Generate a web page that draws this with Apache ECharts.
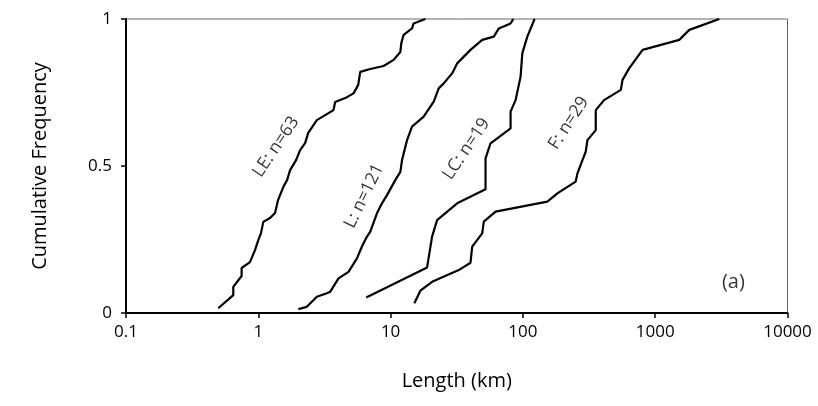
<!DOCTYPE html>
<html>
<head>
<meta charset="utf-8">
<script src="https://cdn.jsdelivr.net/npm/echarts@6/dist/echarts.min.js"></script>
<style>html,body{margin:0;padding:0;background:#fff}#c{width:818px;height:406px}</style>
</head>
<body>
<div id="c"></div>
<script>
// Length (km) and cumulative frequency for each group
const leLength = [0.498,0.647,0.647,0.748,0.748,0.865,0.944,1.0,1.048,1.091,1.226,1.338,1.410,1.546,1.650,1.739,1.930,2.070,2.258,2.379,2.770,3.201,3.700,3.812,4.538,5.245,5.692,5.895,7.020,8.851,10.54,11.85,12.05,12.54,14.52,14.94,18.32];
const leFreq   = [0.016,0.061,0.089,0.126,0.153,0.173,0.214,0.248,0.272,0.310,0.323,0.340,0.384,0.429,0.452,0.486,0.520,0.554,0.578,0.612,0.656,0.673,0.690,0.718,0.731,0.747,0.776,0.820,0.830,0.840,0.861,0.888,0.918,0.946,0.968,0.985,1.0];

const lLength = [2.01,2.326,2.770,3.298,3.493,4.037,4.807,5.566,6.073,6.626,7.020,7.888,8.607,9.391,10.85,11.85,12.20,13.31,14.52,17.78,21.18,23.10,25.20,29.18,31.84,40.17,49.25,60.29,65.79,80.68,84.59];
const lFreq   = [0.013,0.021,0.055,0.067,0.072,0.118,0.140,0.186,0.226,0.260,0.277,0.339,0.373,0.401,0.452,0.480,0.520,0.588,0.634,0.668,0.719,0.764,0.781,0.815,0.849,0.895,0.929,0.940,0.968,0.985,1.0];

const lcLength = [6.546,18.87,20.59,22.46,31.84,52.18,52.18,56.92,80.68,80.68,88.04,96.07,98.97,107.98,122.6];
const lcFreq   = [0.053,0.155,0.260,0.316,0.373,0.421,0.526,0.577,0.628,0.685,0.724,0.804,0.883,0.940,1.0];

const fLength = [15.12,16.79,20.59,32.74,40.17,41.38,49.25,50.64,62.13,153.0,182.2,250.7,258.3,298.5,307.5,355.4,355.4,410.8,549.8,566.2,635.3,802.8,1520,1810,3054];
const fFreq   = [0.033,0.076,0.106,0.146,0.171,0.226,0.271,0.311,0.345,0.379,0.407,0.447,0.475,0.549,0.588,0.622,0.690,0.724,0.759,0.793,0.832,0.895,0.929,0.963,1.0];

const xTicks = [0.1, 1, 10, 100, 1000, 10000];
const xTickLabels = ['0.1','1','10','100','1000','10000'];
const yTickLabels = {0:'0', 0.5:'0.5', 1:'1'};

// annotation labels: text, anchor length, anchor frequency, angle
const annText  = ['LE: n=63','L: n=121','LC: n=19','F: n=29','(a)'];
const annX     = [1.36, 6.31, 37.4, 222, 3900];
const annY     = [0.565, 0.398, 0.558, 0.646, 0.105];
const annAngle = [56, 64, 56, 57, 0];

const FONT = 'Open Sans';
function pairs(xs, ys){ return xs.map((v,i)=>[v, ys[i]]); }
function lineSeries(name, xs, ys){
  return {name, type:'line', data:pairs(xs,ys), symbol:'none', smooth:false,
    lineStyle:{color:'#000', width:2.2}, z:3, animation:false};
}
const chart = echarts.init(document.getElementById('c'), null, {renderer:'canvas'});
const series = [
  lineSeries('LE', leLength, leFreq),
  lineSeries('L', lLength, lFreq),
  lineSeries('LC', lcLength, lcFreq),
  lineSeries('F', fLength, fFreq),
  {type:'scatter', symbolSize:0, animation:false, silent:true,
   data: annText.map((t,i)=>({value:[annX[i], annY[i]], name:t,
     label:{show:true, position:'inside', formatter:t, rotate:annAngle[i],
       fontFamily:FONT, fontSize: i===4 ? 20 : 17.5, color:'#000'}}))}
];
chart.setOption({
  backgroundColor:'#fff',
  animation:false,
  grid:{left:126, right:30.5, top:19, bottom:93, show:true, borderColor:'#666', borderWidth:1},
  xAxis:{type:'log', logBase:10, min:0.1, max:10000,
    name:'Length (km)', nameLocation:'middle', nameGap:58,
    nameTextStyle:{fontFamily:FONT, fontSize:20, color:'#000'},
    axisLine:{show:true, onZero:false, lineStyle:{color:'#000', width:2}},
    axisTick:{show:true, length:5, lineStyle:{color:'#000', width:1.5}},
    axisLabel:{fontFamily:FONT, fontSize:17, color:'#000', margin:11,
      formatter:v=>{const i=xTicks.findIndex(t=>Math.abs(Math.log10(t)-Math.log10(v))<1e-6); return i>=0?xTickLabels[i]:'';}},
    splitLine:{show:false}, minorTick:{show:false}},
  yAxis:{type:'value', min:0, max:1, interval:0.5,
    name:'Cumulative Frequency', nameLocation:'middle', nameGap:76,
    nameTextStyle:{fontFamily:FONT, fontSize:20, color:'#000'},
    axisLine:{show:true, lineStyle:{color:'#000', width:2}},
    axisTick:{show:true, length:5, lineStyle:{color:'#000', width:1.5}},
    axisLabel:{fontFamily:FONT, fontSize:17, color:'#000', margin:14,
      formatter:v=>yTickLabels[v] ?? ''},
    splitLine:{show:false}},
  series
});
</script>
</body>
</html>
